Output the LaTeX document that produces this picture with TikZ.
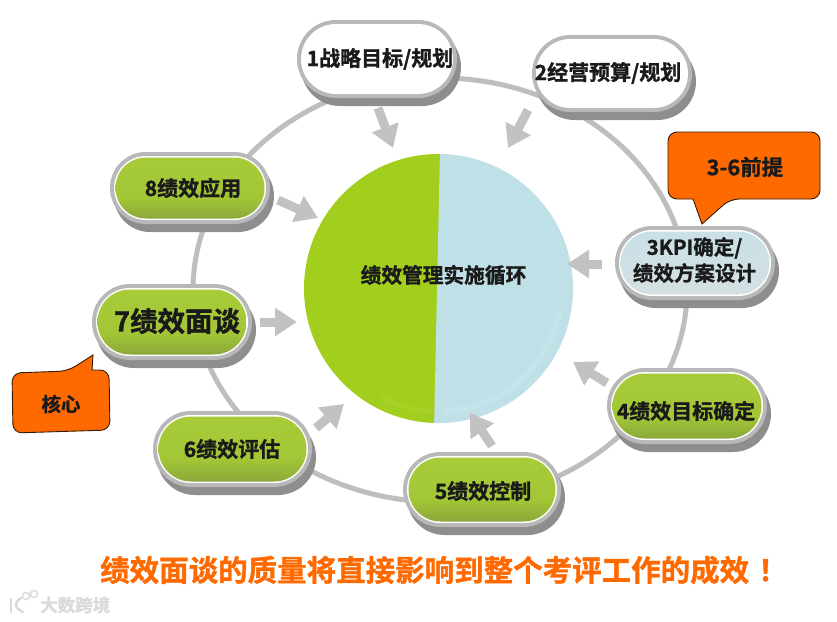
\documentclass[tikz,border=0pt]{standalone}
\usepackage{fontspec}
\setmainfont{Noto Sans CJK SC}[BoldFont={Noto Sans CJK SC Bold},BoldFeatures={FakeBold=1.2}]
\usetikzlibrary{arrows.meta}
\definecolor{ringgray}{HTML}{BEBEBE}
\definecolor{arrowgray}{HTML}{C2C2C2}
\definecolor{pillshadow}{HTML}{8E8E8E}
\definecolor{pillborder}{HTML}{B8B8B8}
\definecolor{greentop}{HTML}{A8CC38}
\definecolor{greenmid}{HTML}{A2C636}
\definecolor{greenbot}{HTML}{8CA83A}
\definecolor{bluetop}{HTML}{C8E0E6}
\definecolor{bluebot}{HTML}{D4E0E3}
\definecolor{callout}{HTML}{FF6A00}
\definecolor{calloutline}{HTML}{3A1A00}
\definecolor{piegreen}{HTML}{A2CE1E}
\definecolor{pieblue}{HTML}{BEE0E6}
\definecolor{rimblue}{HTML}{C5E4E9}
\definecolor{rimgreen}{HTML}{A7D126}
\definecolor{ink}{HTML}{1A1A1A}
\definecolor{wmgray}{HTML}{DADADA}
\pgfdeclareverticalshading{pillgreen}{100bp}{color(0bp)=(greenbot); color(25bp)=(greenbot); color(42bp)=(greenmid); color(75bp)=(greentop); color(100bp)=(greentop)}
\tikzset{
  flow/.style={draw=arrowgray, line width=9pt, -{Triangle[length=22pt,width=27pt]}},
  label/.style={font=\bfseries, text=ink, align=center, inner sep=0pt},
  bubble/.style={fill=callout, draw=calloutline, line width=0.9pt, rounded corners=9pt},
  greenfill/.style={shading=pillgreen},
  bluefill/.style={top color=bluetop, bottom color=bluebot},
  whitefill/.style={fill=white}
}
% name, left, top, right, bottom, fill style, font size, text x, text y, text
\newcommand{\pillshape}[9]{%
  \pgfmathsetmacro{\rr}{(#5-#3)/2}%
  \fill[pillshadow, rounded corners=\rr pt] (#2+4,#3+8) rectangle (#4+4,#5+8);
  \fill[pillborder, rounded corners=\rr pt] (#2,#3) rectangle (#4,#5);
  \fill[white, rounded corners=\rr pt-4pt] (#2+4,#3+4) rectangle (#4-4,#5-4);
  \path[#6, rounded corners=\rr pt-5.5pt] (#2+5.5,#3+5.5) rectangle (#4-5.5,#5-5.5);
  \node[label, font=\bfseries\fontsize{#7}{26}\selectfont] (#1) at (#8) {#9};
}
\begin{document}
\begin{tikzpicture}[x=1pt,y=-1pt]
\useasboundingbox (0,0) rectangle (837,621);
\fill[white] (0,0) rectangle (837,621);
% ring
\draw[ringgray, line width=5pt] (440,290) ellipse [x radius=247, y radius=212];
% pie
\begin{scope}
  \clip (438.5,288.5) circle (134.5);
  \fill[piegreen] (300,150) rectangle (441,430);
  \fill[pieblue] (440,150) -- (434,430) -- (580,430) -- (580,150) -- cycle;
  \draw[rimblue, line width=6pt] (438.5,288.5) ++(88:123) arc[start angle=88, end angle=10, radius=123];
  \draw[rimgreen, line width=5pt] (438.5,288.5) ++(92:123) arc[start angle=92, end angle=118, radius=123];
\end{scope}
\node[label, font=\bfseries\fontsize{20.7}{24}\selectfont] (core) at (443.5,275) {绩效管理实施循环};
% pills
\pillshape{p1}{297}{20}{457}{98}{whitefill}{21}{380,59}{1战略目标/规划}
\pillshape{p2}{532}{35}{692}{112}{whitefill}{21}{608,73}{2经营预算/规划}
\pillshape{p3}{615}{226}{775}{300}{bluefill}{20.5}{694.5,260}{3KPI确定/\\绩效方案设计}
\pillshape{p4}{607}{368}{767}{444}{greenfill}{21}{686,411}{4绩效目标确定}
\pillshape{p5}{403}{452}{561}{527}{greenfill}{21}{483,491}{5绩效控制}
\pillshape{p6}{153}{411}{312}{487}{greenfill}{21}{232,449}{6绩效评估}
\pillshape{p7}{92}{284}{252}{360}{greenfill}{27.5}{177,321}{7绩效面谈}
\pillshape{p8}{110}{152}{270}{224}{greenfill}{21}{193,188}{8绩效应用}
% flow arrows
\coordinate (t1) at (378,108); \coordinate (h1) at (393,148);
\coordinate (t2) at (528,110); \coordinate (h2) at (508,148);
\coordinate (t3) at (602,264); \coordinate (h3) at (567,264);
\coordinate (t4) at (607,383); \coordinate (h4) at (573,362);
\coordinate (t5) at (492,446); \coordinate (h5) at (470,413);
\coordinate (t6) at (316,428); \coordinate (h6) at (344,404);
\coordinate (t7) at (260,322); \coordinate (h7) at (297,322);
\coordinate (t8) at (278,200); \coordinate (h8) at (318,218);
\foreach \i in {1,...,8} \draw[flow] (t\i) -- (h\i);
% callouts
\draw[bubble] (668,132) -- (820,132) -- (820,199)
  -- (730,199) [sharp corners] -- (702,224) -- (693,199) [rounded corners=9pt] -- (668,199) -- cycle;
\node[label, font=\bfseries\fontsize{21.5}{24}\selectfont] (c36) at (745,167) {3-6前提};
\draw[bubble] (12,373) -- (68,371) [sharp corners] -- (93,355) -- (92,370) [rounded corners=9pt] -- (109,370) -- (110,430) -- (13,433) -- cycle;
\node[label, font=\bfseries\fontsize{19.5}{23}\selectfont] (c7) at (61,404) {核心};
% headline
\node[font=\bfseries\fontsize{29.5}{34}\selectfont, text=callout, inner sep=0pt, anchor=west] (headline) at (100,570) {绩效面谈的质量将直接影响到整个考评工作的成效\hspace{9pt}！};
% watermark
\node[font=\bfseries\fontsize{17.5}{20}\selectfont, text=wmgray, inner sep=0pt, anchor=west] (wm) at (40,605) {大数跨境};
\draw[wmgray, line width=2.4pt, line cap=round] (11,599) -- (11,612);
\draw[wmgray, line width=2.4pt, line cap=round] (21,598) .. controls (14,602) and (14,608) .. (23,612);
\draw[wmgray, line width=1.4pt] (26,596) circle (3.5) (34,594) circle (3.5);
\end{tikzpicture}
\end{document}
